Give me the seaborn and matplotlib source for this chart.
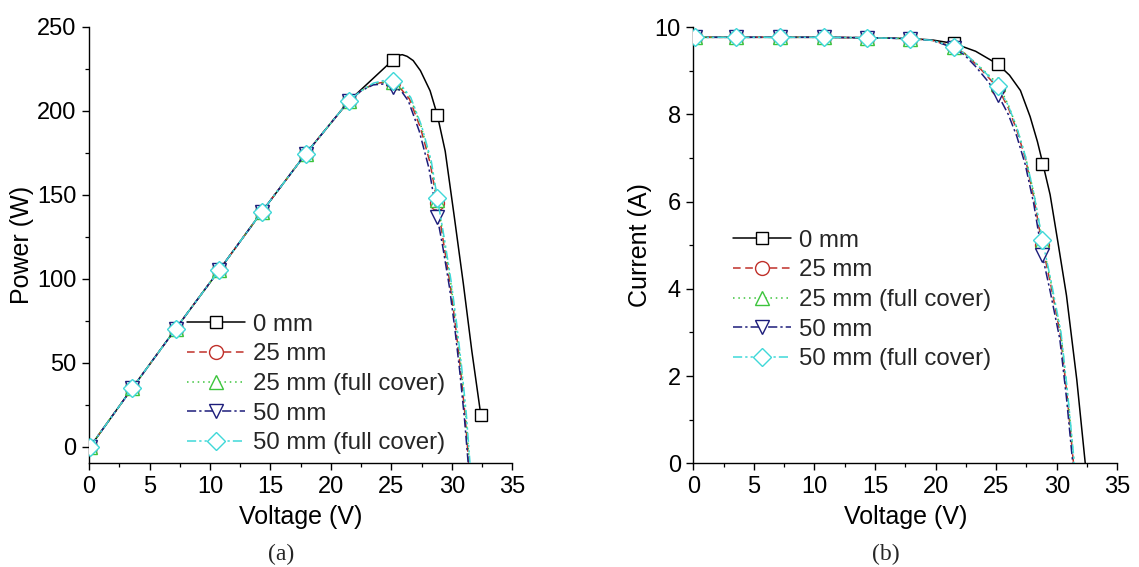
import numpy as np
import pandas as pd
import matplotlib
matplotlib.use("Agg")
import matplotlib.pyplot as plt
from matplotlib.lines import Line2D
from matplotlib.ticker import MultipleLocator
import seaborn as sns

# ---------------- data ----------------
SERIES = ["0 mm", "25 mm", "25 mm (full cover)", "50 mm", "50 mm (full cover)"]

V_MARK = [0.1, 3.55, 7.15, 10.75, 14.3, 17.9, 21.5, 25.15, 28.8, 32.4]

# Power markers (W)
P_MARK_0 = [0, 34.6, 70, 105, 140, 174.3, 206, 230.5, 197.5, 18.5]
P_MARK_25 = [0, 34.6, 70, 105, 140, 174.3, 206, 216.5, 145]
P_MARK_25F = [0, 34.6, 70, 105, 140, 174.3, 206, 217, 147]
P_MARK_50 = [0, 34.6, 70, 105, 140, 174.3, 206, 214, 136.5]
P_MARK_50F = [0, 34.6, 70, 105, 140, 174.3, 206, 218, 148]

# Power curves (W)
V_CURVE_P_0 = [0.1, 3.55, 7.15, 10.75, 14.3, 17.9, 21.5, 25.15, 25.5, 25.9, 26.3,
               26.8, 27.4, 28.2, 28.8, 29.45, 30.2, 30.95, 31.65, 32.4]
P_CURVE_0 = [0, 34.6, 70, 105, 140, 174.3, 206, 230.5, 233, 233.5, 232.5,
             230, 224, 212, 197.5, 176, 137, 97, 57, 18.5]
V_CURVE_P_25 = [0.1, 3.55, 7.15, 10.75, 14.3, 17.9, 21.5, 22.5, 23.5, 24.3, 25.15,
                25.8, 26.5, 27.4, 28.2, 28.8, 29.3, 29.85, 30.3, 30.7, 31.1, 31.4]
P_CURVE_25 = [0, 34.6, 70, 105, 140, 174.3, 206, 212, 216, 217, 216.5,
              213, 207, 190, 169, 145, 122, 97, 72, 47, 18, -10]
V_CURVE_P_25F = [0.1, 3.55, 7.15, 10.75, 14.3, 17.9, 21.5, 22.5, 23.5, 24.3, 25.15,
                 25.85, 26.55, 27.45, 28.25, 28.8, 29.35, 29.9, 30.35, 30.75, 31.15, 31.45]
P_CURVE_25F = [0, 34.6, 70, 105, 140, 174.3, 206, 212, 216, 217, 217,
               214, 208, 191, 170, 147, 123, 98, 73, 48, 19, -10]
V_CURVE_P_50 = [0.1, 3.55, 7.15, 10.75, 14.3, 17.9, 21.5, 22.5, 23.5, 24.3, 25.15,
                25.8, 26.4, 27.3, 28.1, 28.8, 29.25, 29.8, 30.25, 30.65, 31.05, 31.35]
P_CURVE_50 = [0, 34.6, 70, 105, 140, 174.3, 206, 212, 215.5, 216, 214,
              212, 206, 188, 166, 136.5, 119, 95, 70, 45, 16, -10]
V_CURVE_P_50F = [0.1, 3.55, 7.15, 10.75, 14.3, 17.9, 21.5, 22.5, 23.5, 24.3, 25.15,
                 25.9, 26.6, 27.5, 28.3, 28.8, 29.4, 29.95, 30.4, 30.8, 31.2, 31.5]
P_CURVE_50F = [0, 34.6, 70, 105, 140, 174.3, 206, 212, 216.5, 218, 218,
               214.5, 208, 191, 170, 148, 123, 98, 73, 48, 19, -10]

# Current markers (A)
I_MARK_0 = [9.77, 9.77, 9.77, 9.77, 9.76, 9.74, 9.63, 9.15, 6.87]
I_MARK_25 = [9.77, 9.77, 9.77, 9.77, 9.76, 9.74, 9.55, 8.6, 5.0]
I_MARK_25F = [9.77, 9.77, 9.77, 9.77, 9.76, 9.74, 9.55, 8.7, 5.1]
I_MARK_50 = [9.77, 9.77, 9.77, 9.77, 9.76, 9.74, 9.53, 8.45, 4.78]
I_MARK_50F = [9.77, 9.77, 9.77, 9.77, 9.76, 9.74, 9.55, 8.65, 5.13]

# Current curves (A)
V_CURVE_I_0 = [0.1, 3.55, 7.15, 10.75, 14.3, 17.9, 19.7, 21.5, 23.3, 25.15, 26.1,
               27.0, 27.8, 28.4, 28.85, 29.45, 30.1, 30.8, 31.65, 32.35]
I_CURVE_0 = [9.77, 9.77, 9.77, 9.77, 9.76, 9.74, 9.71, 9.63, 9.45, 9.15, 8.9,
             8.55, 7.95, 7.38, 6.87, 6.16, 5.06, 3.85, 1.92, 0]
V_CURVE_I_25 = [0.1, 3.55, 7.15, 10.75, 14.3, 17.9, 19.7, 21.5, 22.4, 23.3, 24.2,
                25.15, 26.0, 26.7, 27.4, 28.1, 28.8, 29.5, 30.3, 30.85, 31.38]
I_CURVE_25 = [9.77, 9.77, 9.77, 9.77, 9.76, 9.74, 9.7, 9.55, 9.4, 9.16, 8.9,
              8.6, 8.15, 7.64, 7.0, 6.1, 5.0, 4.1, 2.95, 1.55, 0]
V_CURVE_I_25F = [0.1, 3.55, 7.15, 10.75, 14.3, 17.9, 19.7, 21.5, 22.4, 23.3, 24.2,
                 25.15, 26.0, 26.7, 27.4, 28.1, 28.8, 29.55, 30.35, 30.9, 31.42]
I_CURVE_25F = [9.77, 9.77, 9.77, 9.77, 9.76, 9.74, 9.7, 9.55, 9.4, 9.18, 8.95,
               8.7, 8.22, 7.7, 7.05, 6.2, 5.1, 4.1, 2.95, 1.55, 0]
V_CURVE_I_50 = [0.1, 3.55, 7.15, 10.75, 14.3, 17.9, 19.7, 21.5, 22.4, 23.3, 24.2,
                25.15, 26.0, 26.7, 27.4, 28.1, 28.8, 29.45, 30.25, 30.8, 31.32]
I_CURVE_50 = [9.77, 9.77, 9.77, 9.77, 9.76, 9.74, 9.7, 9.53, 9.36, 9.1, 8.8,
              8.45, 8.0, 7.5, 6.85, 5.95, 4.78, 3.95, 2.85, 1.5, 0]
V_CURVE_I_50F = [0.1, 3.55, 7.15, 10.75, 14.3, 17.9, 19.7, 21.5, 22.4, 23.3, 24.2,
                 25.15, 26.0, 26.7, 27.4, 28.1, 28.8, 29.55, 30.35, 30.9, 31.45]
I_CURVE_50F = [9.77, 9.77, 9.77, 9.77, 9.76, 9.74, 9.7, 9.55, 9.4, 9.18, 8.93,
               8.65, 8.2, 7.7, 7.05, 6.2, 5.13, 4.15, 3.0, 1.6, 0]

X_TICKS = [0, 5, 10, 15, 20, 25, 30, 35]
P_TICKS = [0, 50, 100, 150, 200, 250]
I_TICKS = [0, 2, 4, 6, 8, 10]

# ---------------- styles ----------------
COLORS = ["#000000", "#c0302a", "#3cc43c", "#1c1c7a", "#3fd8d8"]
DASHES = ["-", (0, (5, 3)), (0, (1, 2.5)), (0, (6, 2, 1.5, 2)), (0, (6, 2, 1.5, 2, 1.5, 2))]
MARKERS = ["s", "o", "^", "v", "D"]
MSIZES = [9, 10, 10.5, 10.5, 9]

sns.set_theme(style="ticks")
plt.rcParams["font.family"] = ["Liberation Sans", "DejaVu Sans"]

fig = plt.figure(figsize=(11.39, 5.67), dpi=100)
ax_a = fig.add_axes([0.0782, 0.1829, 0.3716, 0.7695])
ax_b = fig.add_axes([0.6087, 0.1829, 0.3723, 0.7690])

curves_p = [(V_CURVE_P_0, P_CURVE_0), (V_CURVE_P_25, P_CURVE_25), (V_CURVE_P_25F, P_CURVE_25F),
            (V_CURVE_P_50, P_CURVE_50), (V_CURVE_P_50F, P_CURVE_50F)]
marks_p = [P_MARK_0, P_MARK_25, P_MARK_25F, P_MARK_50, P_MARK_50F]
curves_i = [(V_CURVE_I_0, I_CURVE_0), (V_CURVE_I_25, I_CURVE_25), (V_CURVE_I_25F, I_CURVE_25F),
            (V_CURVE_I_50, I_CURVE_50), (V_CURVE_I_50F, I_CURVE_50F)]
marks_i = [I_MARK_0, I_MARK_25, I_MARK_25F, I_MARK_50, I_MARK_50F]


def draw(ax, curves, marks):
    for k, name in enumerate(SERIES):
        cv, cy = curves[k]
        dfc = pd.DataFrame({"V": cv, "Y": cy})
        sns.lineplot(data=dfc, x="V", y="Y", ax=ax, sort=False, estimator=None,
                     color=COLORS[k], linestyle=DASHES[k], linewidth=1.1, zorder=2 + 2 * k)
        my = marks[k]
        dfm = pd.DataFrame({"V": V_MARK[:len(my)], "Y": my})
        sns.lineplot(data=dfm, x="V", y="Y", ax=ax, sort=False, estimator=None,
                     color=COLORS[k], linestyle="none", marker=MARKERS[k],
                     markersize=MSIZES[k], markerfacecolor="white",
                     markeredgecolor=COLORS[k], markeredgewidth=1.0, zorder=3 + 2 * k)


draw(ax_a, curves_p, marks_p)
draw(ax_b, curves_i, marks_i)

handles = [Line2D([0], [0], color=COLORS[k], linestyle=DASHES[k], linewidth=1.1,
                  marker=MARKERS[k], markersize=MSIZES[k], markerfacecolor="white",
                  markeredgecolor=COLORS[k], markeredgewidth=1.0)
           for k in range(len(SERIES))]

for ax, ylab, yt, ylim, ymin_step, leg_anchor in [
        (ax_a, "Power (W)", P_TICKS, (-10, 250), 25, (0.231, 0.343)),
        (ax_b, "Current (A)", I_TICKS, (0, 10), 1, (0.094, 0.536))]:
    ax.set_xlim(0, 35)
    ax.set_ylim(*ylim)
    ax.set_xticks(X_TICKS)
    ax.set_yticks(yt)
    ax.xaxis.set_minor_locator(MultipleLocator(2.5))
    ax.yaxis.set_minor_locator(MultipleLocator(ymin_step))
    for s in ["top", "right"]:
        ax.spines[s].set_visible(False)
    for s in ["left", "bottom"]:
        ax.spines[s].set_linewidth(1.0)
        ax.spines[s].set_color("black")
    ax.tick_params(which="major", direction="out", length=5, width=1.0, labelsize=17,
                   color="black", labelcolor="black", pad=4)
    ax.tick_params(which="minor", direction="out", length=3, width=0.9, color="black")
    ax.set_xlabel("Voltage (V)", fontsize=18, labelpad=5, color="black")
    ax.set_ylabel(ylab, fontsize=18, labelpad=6, color="black")
    ax.legend(handles=handles, labels=SERIES, loc="upper left", bbox_to_anchor=leg_anchor,
              frameon=False, fontsize=17.3, handlelength=2.4, handletextpad=0.35,
              labelspacing=0.32, borderpad=0, borderaxespad=0)

ax_a.yaxis.set_label_coords(-0.13, 0.5)
ax_b.yaxis.set_label_coords(-0.097, 0.5)

fig.text(0.2467, 0.003, "(a)", fontsize=17, family=["Liberation Serif"], ha="center", va="bottom")
fig.text(0.7776, 0.003, "(b)", fontsize=17, family=["Liberation Serif"], ha="center", va="bottom")

fig.savefig("out.png", dpi=100, facecolor="white")
